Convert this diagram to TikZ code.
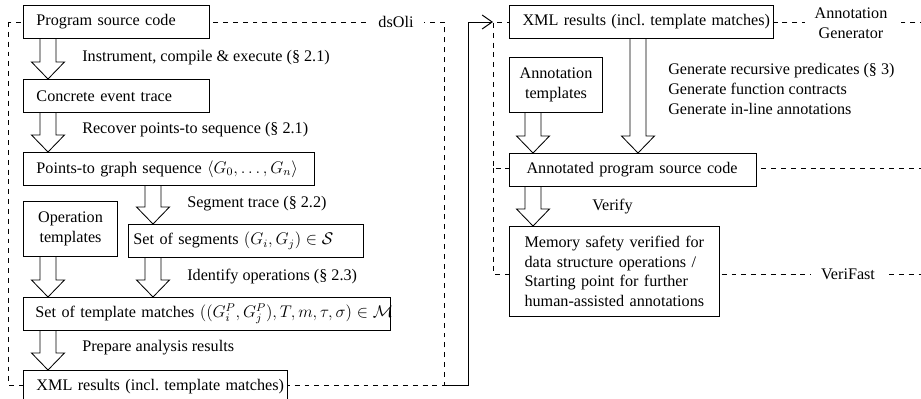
\documentclass[tikz,border=0pt]{standalone}
\usepackage{fontspec}
\setmainfont{Liberation Serif}
\usetikzlibrary{calc,arrows.meta,positioning}
\tikzset{
myBox/.style={
	draw, fill=white, line width=0.7pt, anchor=north west,
	inner ysep=0pt, minimum height=0.825cm, align=left
}
, myLine/.style={execute at begin node=\hbox\bgroup, execute at end node=\egroup}
, myTpl/.style={myBox, align=center, minimum height=1.375cm, inner xsep=0pt}
, myNote/.style={anchor=west, inner sep=0pt}
% frames
, myFrame/.style={dash pattern=on 3.5pt off 3.5pt, line width=0.6pt}
, myFrameLabel/.style={fill=white, inner xsep=0.25cm, inner ysep=1pt, align=center}
% links
, myFlow/.style={line width=0.6pt}
, myLink/.style={line width=0.7pt, -{Straight Barb[length=0.25cm,width=0.35cm]}}
}
% block arrow: node #1 (x offset #2) down to node #3 (x offset #4)
\newcommand\bigFlow[4]{%
	\draw[myFlow] let \p1=($(#1.south west)+(#2,0)$), \p2=($(#3.north west)+(#4,0)$) in
	(\x1-0.2cm,\y1) -- (\x1-0.2cm,\y2+0.425cm) -- (\x1-0.4125cm,\y2+0.425cm)
	-- (\x2,\y2) -- (\x1+0.4125cm,\y2+0.425cm) -- (\x1+0.2cm,\y2+0.425cm) -- (\x1+0.2cm,\y1);
}

\begin{document}
\begin{tikzpicture}[x=0.025cm, y=-0.025cm, font=\fontsize{11.5pt}{14pt}\selectfont]
	\useasboundingbox (0,0) rectangle (921,399);
	% frames
	\draw[myFrame] (8,22) rectangle (444,385);
	\coordinate (dsOliSE) at (444,385);
	\draw[myFrame] (935,22) -- (493,22) -- (493,168) -- (935,168);
	\coordinate (genNW) at (493,22);
	\draw[myFrame] (493,168) -- (493,274) -- (935,274);
	\node[myFrameLabel] (dsoli) at (396,22) {dsOli};
	\node[myFrameLabel] (anngen) at (851,23) {Annotation\\Generator};
	\node[myFrameLabel] (verifast) at (848,274) {VeriFast};

	% dsOli
	\node[myBox, myLine, text width=4cm, inner xsep=0.325cm] (prog) at (23,5) {Program source code};
	\node[myBox, myLine, text width=4cm, inner xsep=0.325cm] (trace) at (23,79) {Concrete event trace};
	\node[myBox, myLine, text width=6.625cm, inner xsep=0.325cm] (ptg) at (23,152) {Points-to graph sequence $\langle G_0,\ldots,G_n\rangle$};
	\node[myTpl, text width=2.35cm] (optpl) at (23,201) {Operation\\templates};
	\node[myBox, myLine, text width=5.625cm, inner xsep=0.125cm] (segs) at (128,224) {Set of segments $(G_i,G_j)\in\mathcal{S}$};
	\node[myBox, myLine, text width=8.575cm, inner xsep=0.3cm] (match) at (23,297) {Set of template matches $((G_i^P,G_j^P),T,m,\tau,\sigma)\in\mathcal{M}$};
	\node[myBox, myLine, text width=5.95cm, inner xsep=0.325cm] (xmlL) at (23,370) {XML results (incl.\ template matches)};

	% annotation generator / verifast
	\node[myBox, myLine, text width=5.95cm, inner xsep=0.325cm] (xmlR) at (509,5) {XML results (incl.\ template matches)};
	\node[myTpl, text width=2.325cm] (anntpl) at (509,57) {Annotation\\templates};
	\node[myBox, myLine, text width=5.325cm, inner xsep=0.425cm] (annot) at (509,153) {Annotated program source code};
	\node[myBox, text width=4.5cm, inner xsep=0.375cm, minimum height=2.25cm] (mem) at (509,226) {Memory safety verified for\\data structure operations /\\Starting point for further\\human-assisted annotations};

	% steps
	\bigFlow{prog}{25}{trace}{25}
	\bigFlow{trace}{25}{ptg}{25}
	\bigFlow{ptg}{130}{segs}{25}
	\bigFlow{optpl}{25}{match}{25}
	\bigFlow{segs}{25}{match}{130}
	\bigFlow{match}{25}{xmlL}{25}
	\bigFlow{xmlR}{129}{annot}{129}
	\bigFlow{anntpl}{24}{annot}{24}
	\bigFlow{annot}{24}{mem}{24}

	% step labels
	\node[myNote] (instr) at (82,58) {Instrument, compile \& execute (§ 2.1)};
	\node[myNote] (recover) at (82,130) {Recover points-to sequence (§ 2.1)};
	\node[myNote] (segtrace) at (187,204) {Segment trace (§ 2.2)};
	\node[myNote] (identify) at (187,277) {Identify operations (§ 2.3)};
	\node[myNote] (prepare) at (82,348) {Prepare analysis results};
	\node[myNote, align=left] (generate) at (668,89) {Generate recursive predicates (§ 3)\\Generate function contracts\\Generate in-line annotations};
	\node[myNote] (verify) at (592,207) {Verify};

	% hand over
	\draw[myLink] (dsOliSE) -- ++(24,0) |- (genNW);
\end{tikzpicture}
\end{document}
